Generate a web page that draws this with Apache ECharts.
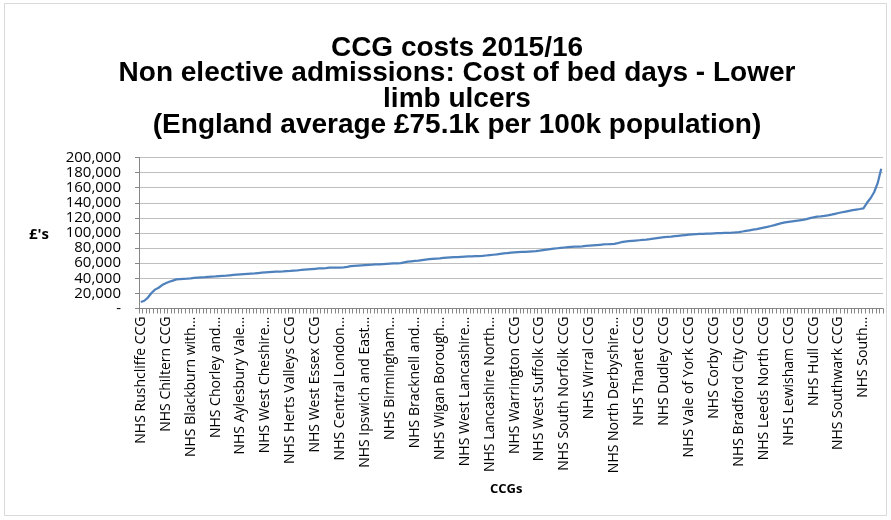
<!DOCTYPE html>
<html>
<head>
<meta charset="utf-8">
<script src="https://cdn.jsdelivr.net/npm/echarts@6/dist/echarts.min.js"></script>
<style>
  html, body { margin: 0; padding: 0; background: #fff; }
  #chart { width: 891px; height: 520px; }
</style>
</head>
<body>
<div id="chart"></div>
<script>
// Cost of non-elective bed days for lower limb ulcers, per 100k population,
// one value per CCG, sorted ascending (£).
const costs = [
  8600, 10300, 14500, 20500, 25000, 27500, 31000, 33500, 35500, 37000,
  38500, 39000, 39300, 39600, 40000, 40500, 41000, 41300, 41600, 42000,
  42300, 42600, 43000, 43300, 43600, 44000, 44400, 44800, 45200, 45600,
  46000, 46300, 46600, 47000, 47400, 47800, 48200, 48500, 48800, 49000,
  49200, 49500, 49800, 50200, 50500, 51000, 51400, 51800, 52200, 52600,
  53000, 53300, 53600, 54000, 54100, 54200, 54300, 54500, 55200, 56000,
  56600, 56900, 57200, 57500, 57800, 58000, 58300, 58600, 58900, 59200,
  59500, 59700, 59900, 60200, 61200, 62000, 62500, 63000, 63500, 64200,
  64800, 65300, 65800, 66200, 66500, 66900, 67300, 67600, 67900, 68200,
  68500, 68700, 68900, 69100, 69300, 69500, 69700, 70200, 70700, 71200,
  71700, 72300, 72900, 73500, 74000, 74300, 74600, 74900, 75100, 75400,
  75700, 76000, 76600, 77300, 78000, 78700, 79300, 79800, 80300, 80800,
  81200, 81500, 81800, 82100, 82400, 82800, 83200, 83600, 84000, 84400,
  84800, 85100, 85400, 85700, 86500, 87800, 88600, 89200, 89600, 90000,
  90400, 90800, 91200, 91800, 92500, 93200, 93900, 94400, 94800, 95200,
  95800, 96300, 96800, 97300, 97800, 98200, 98500, 98700, 98900, 99100,
  99300, 99500, 99700, 99900, 100100, 100300, 100500, 100800, 101300, 102000,
  102800, 103600, 104400, 105200, 106200, 107200, 108200, 109300, 110500, 111800,
  113000, 114000, 114800, 115500, 116200, 116800, 117400, 118400, 119600, 120700,
  121600, 122000, 122600, 123300, 124300, 125400, 126500, 127500, 128400, 129300,
  130200, 131000, 131800, 132700, 140000, 146000, 154000, 166000, 185000
];

// Every seventh CCG carries a visible name on the category axis.
const LABEL_STEP = 7;
const ccgNames = [
  'NHS Rushcliffe CCG', 'NHS Chiltern CCG', 'NHS Blackburn with…',
  'NHS Chorley and…', 'NHS Aylesbury Vale…', 'NHS West Cheshire…',
  'NHS Herts Valleys CCG', 'NHS West Essex CCG', 'NHS Central London…',
  'NHS Ipswich and East…', 'NHS Birmingham…', 'NHS Bracknell and…',
  'NHS Wigan Borough…', 'NHS West Lancashire…', 'NHS Lancashire North…',
  'NHS Warrington CCG', 'NHS West Suffolk CCG', 'NHS South Norfolk CCG',
  'NHS Wirral CCG', 'NHS North Derbyshire…', 'NHS Thanet CCG',
  'NHS Dudley CCG', 'NHS Vale of York CCG', 'NHS Corby CCG',
  'NHS Bradford City CCG', 'NHS Leeds North CCG', 'NHS Lewisham CCG',
  'NHS Hull CCG', 'NHS Southwark CCG', 'NHS South…'
];

const yTicks = { min: 0, max: 200000, step: 20000 };

const categories = costs.map((_, i) =>
  i % LABEL_STEP === 0 ? ccgNames[i / LABEL_STEP] : 'CCG rank ' + (i + 1)
);

const chart = echarts.init(document.getElementById('chart'), null, { renderer: 'canvas' });

const labelFont = '"Open Sans", "Noto Sans", sans-serif';

chart.setOption({
  animation: false,
  backgroundColor: '#ffffff',
  title: {
    text: 'CCG costs 2015/16\nNon elective admissions: Cost of bed days - Lower\nlimb ulcers\n(England average £75.1k per 100k population)',
    left: 452,
    textAlign: 'center',
    top: 30,
    textStyle: {
      fontFamily: '"Liberation Sans", Arial, sans-serif',
      fontSize: 28,
      fontWeight: 'bold',
      lineHeight: 25.7,
      color: '#000'
    }
  },
  graphic: [
    {
      type: 'rect',
      silent: true,
      shape: { x: 4.5, y: 3.5, width: 882, height: 512 },
      style: { fill: 'none', stroke: '#d9d9d9', lineWidth: 1 }
    },
    {
      type: 'text',
      left: 29,
      top: 227,
      style: {
        text: "£'s",
        font: 'bold 15px ' + labelFont,
        fill: '#000'
      }
    },
    {
      type: 'text',
      left: 490,
      top: 483,
      style: {
        text: 'CCGs',
        font: 'bold 13px ' + labelFont,
        fill: '#000'
      }
    }
  ],
  grid: {
    left: 139,
    right: 8,
    top: 157.5,
    bottom: 211.5,
    containLabel: false
  },
  xAxis: {
    type: 'category',
    data: categories,
    boundaryGap: true,
    axisLine: { lineStyle: { color: '#868686', width: 1 } },
    axisTick: {
      show: true,
      interval: 0,
      length: 5,
      lineStyle: { color: '#868686' }
    },
    axisLabel: {
      interval: LABEL_STEP - 1,
      rotate: 90,
      margin: 8,
      fontFamily: labelFont,
      fontSize: 14,
      color: '#000'
    },
    splitLine: { show: false }
  },
  yAxis: {
    type: 'value',
    min: yTicks.min,
    max: yTicks.max,
    interval: yTicks.step,
    axisLine: { show: true, lineStyle: { color: '#868686', width: 1 } },
    axisTick: { show: true, length: 4, lineStyle: { color: '#868686' } },
    axisLabel: {
      margin: 18,
      fontFamily: labelFont,
      fontSize: 15,
      color: '#000',
      formatter: v => v === 0 ? '-' : v.toLocaleString('en-GB')
    },
    splitLine: { lineStyle: { color: '#bfbfbf', width: 1 } }
  },
  series: [
    {
      type: 'line',
      data: costs,
      showSymbol: false,
      smooth: false,
      lineStyle: { color: '#4f81bd', width: 2.25 },
      itemStyle: { color: '#4f81bd' }
    }
  ]
});
</script>
</body>
</html>
